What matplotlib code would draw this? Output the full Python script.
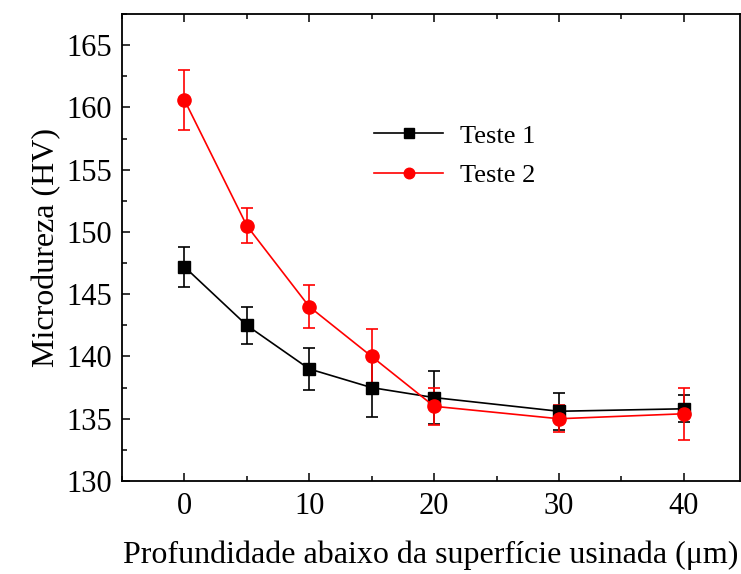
import numpy as np
import matplotlib.pyplot as plt
from matplotlib.ticker import MultipleLocator

plt.rcParams['font.family'] = ['Liberation Serif', 'DejaVu Serif']

depth = [0, 5, 10, 15, 20, 30, 40]
teste1 = [147.2, 142.5, 139.0, 137.5, 136.7, 135.6, 135.8]
teste1_err = [1.6, 1.5, 1.7, 2.4, 2.1, 1.5, 1.1]
teste2 = [160.6, 150.5, 144.0, 140.0, 136.0, 135.0, 135.4]
teste2_err = [2.4, 1.4, 1.7, 2.2, 1.5, 1.1, 2.1]

fig = plt.figure(figsize=(7.41, 5.74), dpi=100)
ax = fig.add_axes([0.1646, 0.162, 0.834, 0.8136])

ax.errorbar(depth, teste1, yerr=teste1_err, color='black', marker='s',
            markersize=8.5, lw=1.2, elinewidth=1.2, capsize=4, capthick=1.2,
            label='Teste 1')
ax.errorbar(depth, teste2, yerr=teste2_err, color='#ff0000', marker='o',
            markersize=9.5, lw=1.2, elinewidth=1.2, capsize=4, capthick=1.2,
            label='Teste 2')

ax.set_xlim(-5, 44.5)
ax.set_ylim(130, 167.5)
ax.xaxis.set_major_locator(MultipleLocator(10))
ax.xaxis.set_minor_locator(MultipleLocator(5))
ax.yaxis.set_major_locator(MultipleLocator(5))
ax.yaxis.set_minor_locator(MultipleLocator(2.5))
ax.tick_params(which='both', direction='in', top=True, right=False, labelsize=22)
ax.tick_params(which='major', length=6, width=1.1)
ax.tick_params(which='minor', length=3.5, width=1.1)
ax.tick_params(axis='x', pad=8)
ax.tick_params(axis='y', pad=7)
for s in ax.spines.values():
    s.set_linewidth(1.3)

ax.set_xlabel('Profundidade abaixo da superfície usinada (μm)', fontsize=23, labelpad=14)
ax.set_ylabel('Microdureza (HV)', fontsize=23, labelpad=4)

handles, labels = ax.get_legend_handles_labels()
handles = [h[0] for h in handles]
ax.legend(handles, labels, loc='upper left', bbox_to_anchor=(0.37, 0.815),
          frameon=False, fontsize=19, handlelength=2.6, handletextpad=0.65,
          labelspacing=0.6, markerscale=0.8)

fig.savefig('out.png', dpi=100)
